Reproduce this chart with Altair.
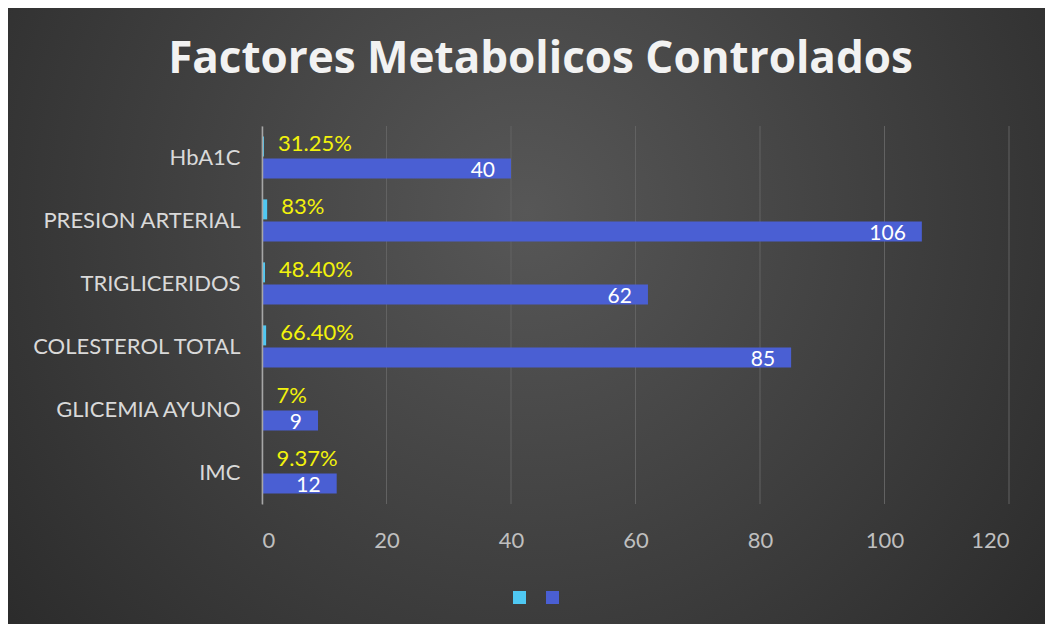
import altair as alt
import pandas as pd

categories = ["HbA1C", "PRESION ARTERIAL", "TRIGLICERIDOS", "COLESTEROL TOTAL", "GLICEMIA AYUNO", "IMC"]
counts = [40, 106, 62, 85, 9, 12]
percents = [31.25, 83, 48.40, 66.40, 7, 9.37]
percent_labels = ["31.25%", "83%", "48.40%", "66.40%", "7%", "9.37%"]
x_ticks = [0, 20, 40, 60, 80, 100, 120]
series = ["Porcentaje", "Pacientes"]
colors = ["#4fc8f2", "#4a5fd3"]

rows = []
for cat, c, p, pl in zip(categories, counts, percents, percent_labels):
    rows.append({"cat": cat, "series": series[0], "value": p / 100, "label": pl})
    rows.append({"cat": cat, "series": series[1], "value": c, "label": str(c)})
df = pd.DataFrame(rows)
ticks_df = pd.DataFrame({"value": x_ticks})

W, H = 747, 378
TOTAL_W, TOTAL_H = 1037, 616
PL, PT = 254, 118
PR = TOTAL_W - PL - W
PB = TOTAL_H - PT - H
FONT = "Lato"

bg = alt.Chart(alt.Data(values=[{"a": 1}])).mark_rect(
    color=alt.Gradient(
        gradient="radial",
        stops=[alt.GradientStop(offset=0, color="#575757"),
               alt.GradientStop(offset=1, color="#242424")],
        x1=0.5, y1=0.4, r1=0, x2=0.5, y2=0.4, r2=0.75,
    )
).encode(
    x=alt.value(-PL), x2=alt.value(TOTAL_W - PL),
    y=alt.value(-PT), y2=alt.value(TOTAL_H - PT),
)

x_scale = alt.Scale(domain=[0, 120], nice=False)

grid = alt.Chart(ticks_df).mark_rule(color="#626262", strokeWidth=1).encode(
    x=alt.X("value:Q", scale=x_scale)
)

y_enc = alt.Y(
    "cat:N", sort=categories,
    scale=alt.Scale(paddingInner=0.33, paddingOuter=0.165),
    axis=alt.Axis(title=None, ticks=False, domain=True, domainColor="#a6a6a6",
                  domainWidth=1.5, labelFont=FONT, labelFontSize=22, labelLimit=400,
                  labelColor="#d9d9d9", labelPadding=22, grid=False, zindex=1),
)
x_enc = alt.X(
    "value:Q", scale=x_scale,
    axis=alt.Axis(title=None, values=x_ticks, grid=False,
                  domain=False, ticks=False, labelFont=FONT, labelFontSize=22,
                  labelColor="#bfbfbf", labelPadding=26, zindex=1),
)
yoff = alt.YOffset("series:N", sort=series, scale=alt.Scale(paddingInner=0.1))

base = alt.Chart(df)
bars = base.mark_bar().encode(
    y=y_enc, x=x_enc, yOffset=yoff,
    color=alt.Color("series:N", sort=series,
                    scale=alt.Scale(domain=series, range=colors),
                    legend=alt.Legend(orient="none", legendX=251, legendY=465,
                                      direction="horizontal", title=None,
                                      labelExpr="''", symbolType="square",
                                      symbolSize=169, symbolStrokeWidth=0,
                                      columnPadding=20, labelOffset=0, zindex=1)),
)
pct_text = base.transform_filter(alt.datum.series == series[0]).mark_text(
    align="left", baseline="middle", dx=14, dy=-2, font=FONT, fontSize=22, color="#f2f20c"
).encode(y=alt.Y("cat:N", sort=categories), x="value:Q", yOffset=yoff, text="label:N")
cnt_text = base.transform_filter(alt.datum.series == series[1]).mark_text(
    align="right", baseline="middle", dx=-16, dy=2, font=FONT, fontSize=21, color="#ffffff"
).encode(y=alt.Y("cat:N", sort=categories), x="value:Q", yOffset=yoff, text="label:N")

chart = alt.layer(bg, grid, bars, pct_text, cnt_text).properties(
    width=W, height=H,
    padding={"left": PL, "top": PT, "right": PR, "bottom": PB},
    autosize=alt.AutoSizeParams(type="none"),
    title=alt.TitleParams("Factores Metabolicos Controlados", font="Open Sans", fontSize=44,
                          fontWeight="bold", color="#f2f2f2", anchor="middle",
                          dx=-95, offset=-109, baseline="alphabetic"),
).configure_view(stroke=None).configure(background="#2e2e2e")

chart.save("out.html", embed_options={"renderer": "svg", "actions": False})
